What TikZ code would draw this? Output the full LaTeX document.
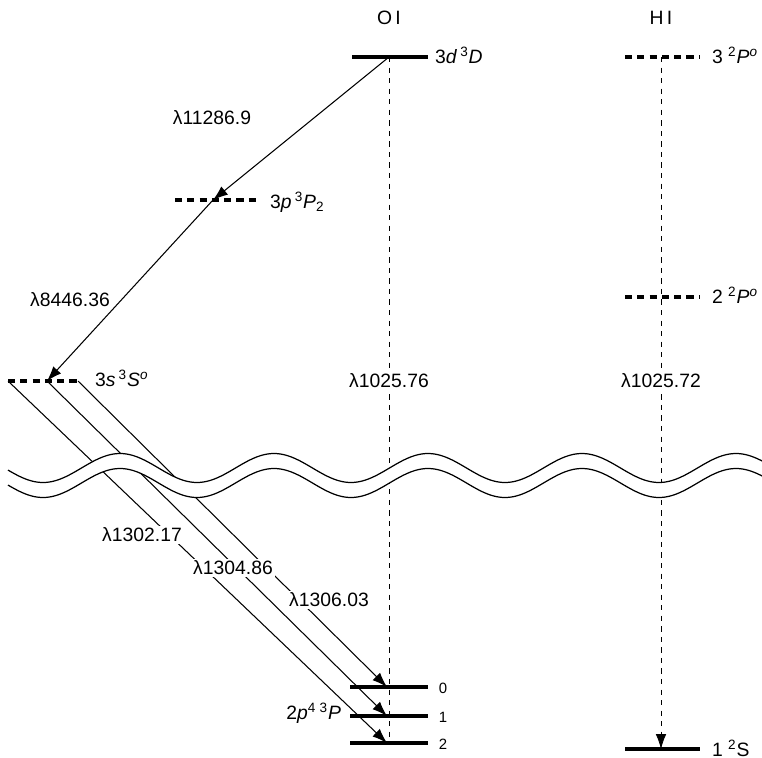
\documentclass[tikz,border=0pt]{standalone}
\usepackage{fontspec}
\setmainfont{Liberation Sans}
\usetikzlibrary{arrows.meta}

\tikzset{
  lvl/.style={line width=2.2pt},
  virtlvl/.style={line width=2.2pt, dash pattern=on 4pt off 3pt},
  trans/.style={-{Latex[length=8.5pt,width=6pt]}, line width=0.6pt},
  vline/.style={line width=0.4pt, dash pattern=on 3pt off 3pt},
  lab/.style={font=\fontsize{11}{13}\selectfont, inner sep=1pt},
  wlab/.style={lab, fill=white},
  jlab/.style={font=\fontsize{8.5}{10}\selectfont, inner sep=1pt},
}

\begin{document}
\begin{tikzpicture}[x=0.02cm, y=-0.02cm]
  \useasboundingbox (0,0) rectangle (762,758);

  % column titles
  \node[lab] (oi) at (389,18) {O\,I};
  \node[lab] (hi) at (661,18) {H\,I};

  % O I levels
  \coordinate (d3l) at (352,57); \coordinate (d3m) at (389,57); \coordinate (d3r) at (428,57);
  \coordinate (p3l) at (175,200); \coordinate (p3m) at (213,200); \coordinate (p3r) at (258,200);
  \coordinate (s3l) at (8,381); \coordinate (s3m) at (47,381); \coordinate (s3r) at (78,381);
  \coordinate (g0l) at (350,687); \coordinate (g0r) at (428,687);
  \coordinate (g1l) at (350,716); \coordinate (g1r) at (428,716);
  \coordinate (g2l) at (350,743); \coordinate (g2r) at (428,743);
  \coordinate (g0) at (387,687); \coordinate (g1) at (387,716); \coordinate (g2) at (387,743);
  \coordinate (g2m) at (389,743);

  % H I levels
  \coordinate (h3l) at (625,57); \coordinate (h3m) at (661,57); \coordinate (h3r) at (700,57);
  \coordinate (h2l) at (625,297); \coordinate (h2r) at (700,297);
  \coordinate (h1l) at (625,749); \coordinate (h1m) at (661,749); \coordinate (h1r) at (700,749);

  \draw[lvl] (d3l) -- (d3r);
  \draw[virtlvl] (p3l) -- (p3r);
  \draw[virtlvl] (s3l) -- (s3r);
  \draw[lvl] (g0l) -- (g0r);
  \draw[lvl] (g1l) -- (g1r);
  \draw[lvl] (g2l) -- (g2r);
  \draw[virtlvl] (h3l) -- (h3r);
  \draw[virtlvl] (h2l) -- (h2r);
  \draw[lvl] (h1l) -- (h1r);

  % level names
  \node[lab, anchor=west] (d3n) at (433,55) {3\textit{d}\,\textsuperscript{3}\textit{D}};
  \node[lab, anchor=west] (p3n) at (268,202) {3\textit{p}\,\textsuperscript{3}\textit{P}\textsubscript{2}};
  \node[lab, anchor=west] (s3n) at (93,378) {3\textit{s}\,\textsuperscript{3}\textit{S}\textsuperscript{\textit{o}}};
  \node[lab, anchor=east] (gn) at (343,713) {2\textit{p}\textsuperscript{4}\,\textsuperscript{3}\textit{P}};
  \node[jlab] (j0) at (443,688) {0};
  \node[jlab] (j1) at (443,717) {1};
  \node[jlab] (j2) at (443,744) {2};
  \node[lab, anchor=west] (h3n) at (710,55) {3 \textsuperscript{2}\textit{P}\textsuperscript{\textit{o}}};
  \node[lab, anchor=west] (h2n) at (710,295) {2 \textsuperscript{2}\textit{P}\textsuperscript{\textit{o}}};
  \node[lab, anchor=west] (h1n) at (710,748) {1 \textsuperscript{2}S};

  % transitions
  \draw[vline] (d3m) -- (g2m);
  \draw[vline, -{Latex[length=8.5pt,width=6pt]}] (h3m) -- (h1m);
  \draw[trans] (d3m) -- (p3m);
  \draw[trans] (p3m) -- (s3m);
  \draw[trans] (s3l) -- (g2);
  \draw[trans] (s3m) -- (g1);
  \draw[trans] (s3r) -- (g0);

  % break in the energy scale
  \fill[white] plot[domain=8:770, samples=160, smooth] (\x, {468-14.5*cos(2.3377*(\x-120))})
    -- plot[domain=770:8, samples=160, smooth] (\x, {483-14.5*cos(2.3377*(\x-120))}) -- cycle;
  \draw[line width=0.7pt] plot[domain=8:770, samples=160, smooth] (\x, {468-14.5*cos(2.3377*(\x-120))});
  \draw[line width=0.7pt] plot[domain=8:770, samples=160, smooth] (\x, {483-14.5*cos(2.3377*(\x-120))});

  % wavelengths
  \node[lab] (l1) at (212,118) {λ11286.9};
  \node[lab] (l2) at (70,300) {λ8446.36};
  \node[wlab] (l3) at (389,381) {λ1025.76};
  \node[wlab] (l4) at (661,381) {λ1025.72};
  \node[wlab] (l5) at (142,535) {λ1302.17};
  \node[wlab] (l6) at (233,568) {λ1304.86};
  \node[wlab] (l7) at (329,600) {λ1306.03};
\end{tikzpicture}
\end{document}
